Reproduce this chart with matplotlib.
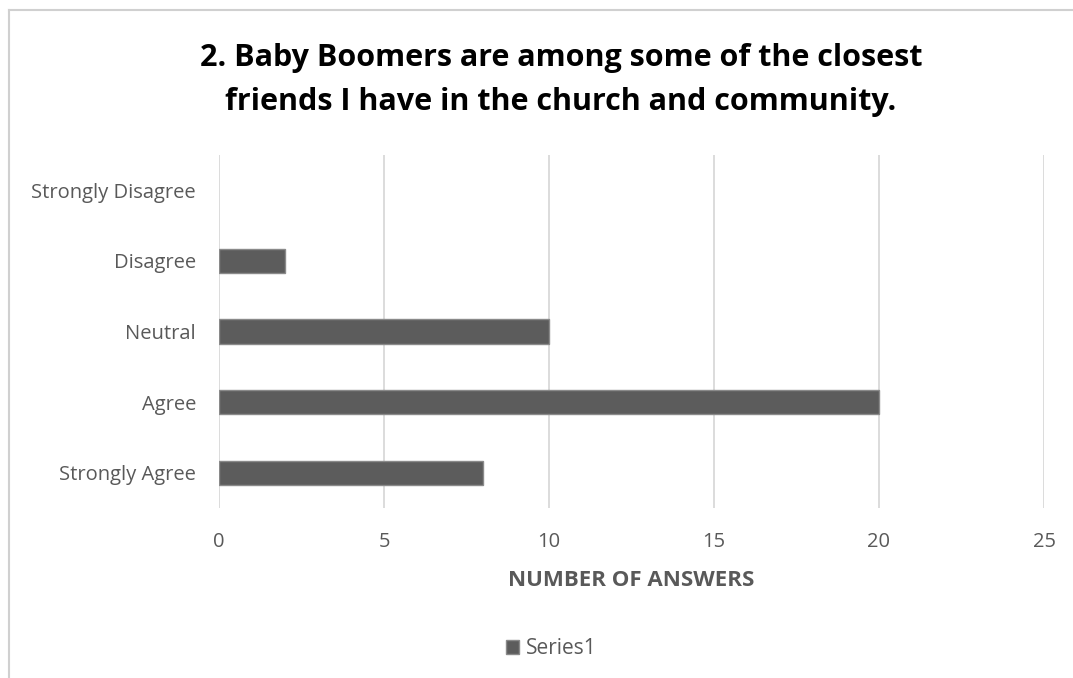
import matplotlib
matplotlib.use("Agg")
import matplotlib.pyplot as plt
from matplotlib.patches import Rectangle
from matplotlib.lines import Line2D

categories = ["Strongly Agree", "Agree", "Neutral", "Disagree", "Strongly Disagree"]
answers = [8, 20, 10, 2, 0]
x_ticks = [0, 5, 10, 15, 20, 25]
title = "2. Baby Boomers are among some of the closest\nfriends I have in the church and community."
x_label = "NUMBER OF ANSWERS"
series_name = "Series1"

W, H = 1073, 678
fig = plt.figure(figsize=(W / 100, H / 100), dpi=100)
fig.patch.set_facecolor("white")

FONT = "Open Sans"
TEXT_GRAY = "#595959"
BAR_FILL = "#5c5c5c"
BAR_EDGE = "#8a8a8a"

# chart frame (left and top edges visible)
fig.add_artist(Line2D([9 / W, 9 / W], [0, 1 - 10 / H], transform=fig.transFigure,
                      color="#d0d0d0", lw=1.5))
fig.add_artist(Line2D([9 / W, 1], [1 - 10 / H, 1 - 10 / H], transform=fig.transFigure,
                      color="#d0d0d0", lw=1.5))

left, right, top, bottom = 219, 1044, 155, 508
ax = fig.add_axes([left / W, 1 - bottom / H, (right - left) / W, (bottom - top) / H])

ypos = list(range(len(categories)))
ax.barh(ypos, answers, height=0.34, color=BAR_FILL, edgecolor=BAR_EDGE,
        linewidth=[1.0 if v else 0.0 for v in answers], zorder=3)
ax.set_xlim(0, 25)
ax.set_ylim(-0.5, len(categories) - 0.5)
ax.set_xticks(x_ticks)
ax.set_xticklabels([str(t) for t in x_ticks], fontsize=14.5, color=TEXT_GRAY, family=FONT)
ax.set_yticks(ypos)
ax.set_yticklabels(categories, fontsize=14.5, color=TEXT_GRAY, family=FONT)
ax.tick_params(axis="both", length=0)
ax.tick_params(axis="y", pad=16.5)
ax.tick_params(axis="x", pad=17)
ax.grid(axis="x", color="#d9d9d9", linewidth=1.3, zorder=0)
for s in ax.spines.values():
    s.set_visible(False)

ax.set_xlabel(x_label, fontsize=16, fontweight="bold", color=TEXT_GRAY, family=FONT,
              labelpad=13)

fig.text(561 / W, 1 - 80 / H, title, ha="center", va="center", fontsize=22,
         fontweight="bold", color="black", family=FONT, linespacing=1.6)

# legend at the bottom
leg = fig.legend(handles=[Rectangle((0, 0), 1, 1, facecolor=BAR_FILL, edgecolor=BAR_EDGE)],
                 labels=[series_name], loc="center", bbox_to_anchor=(551 / W, 1 - 649 / H),
                 frameon=False, prop={"family": FONT, "size": 15}, handlelength=0.65,
                 handleheight=0.65, handletextpad=0.3)
for t in leg.get_texts():
    t.set_color(TEXT_GRAY)

fig.savefig("out.png", dpi=100, facecolor="white")
